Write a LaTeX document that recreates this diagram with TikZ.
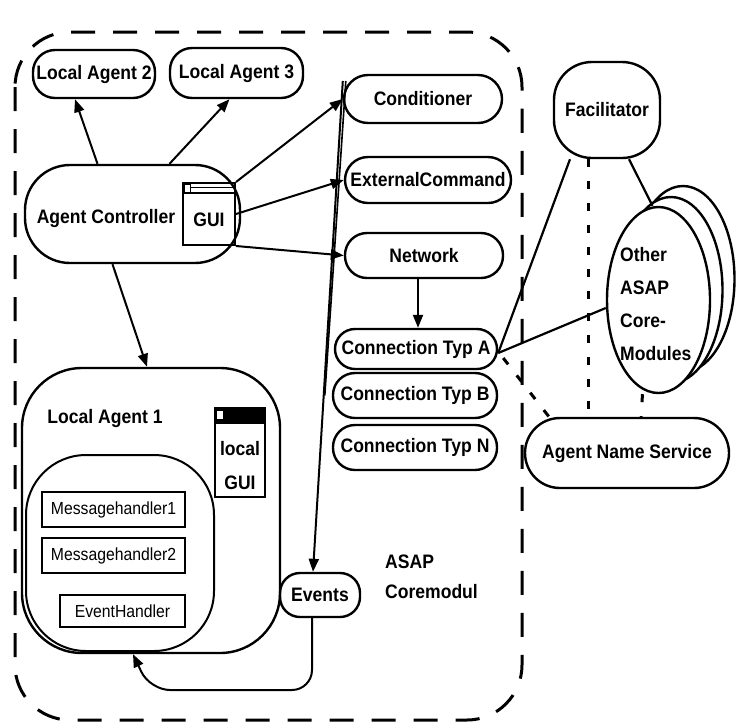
\documentclass[tikz,border=0pt]{standalone}
\usepackage{fontspec}
\setmainfont{Liberation Sans}[FakeStretch=0.9]
\usetikzlibrary{arrows.meta,calc,shapes.geometric}
\begin{document}
\begin{tikzpicture}[x=1pt,y=-1pt,
  every node/.style={inner sep=0pt},
  lbl/.style={font=\bfseries\fontsize{19.5}{21}\selectfont},
  box/.style={draw, line width=2.4pt, rounded corners=#1, font=\bfseries\fontsize{19.5}{21}\selectfont},
  box/.default=20pt,
  hbox/.style={draw, line width=2pt, font=\fontsize{17.5}{19}\selectfont},
  win/.style={draw, line width=2pt},
  arr/.style={line width=2pt, -{Triangle[length=13pt,width=10pt]}},
  ln/.style={line width=2.2pt},
  dot/.style={line width=3pt, dash pattern=on 8pt off 14pt},
  oval/.style={draw, ellipse, line width=2.4pt, fill=white, minimum width=103pt, minimum height=186pt}
]
\useasboundingbox (0,0) rectangle (741,724);
\fill[white] (0,0) rectangle (741,724);

% boundary of the core module
\draw[line width=3pt, dash pattern=on 24pt off 18pt, rounded corners=55pt] (15,32) rectangle (522,720);

% local agents and controller
\node[box=22pt, minimum width=122pt, minimum height=48pt] (la2) at (94,74) {Local Agent 2};
\node[box=22pt, minimum width=133pt, minimum height=50pt] (la3) at (236.5,73) {Local Agent 3};
\node[box=45pt, minimum width=215pt, minimum height=98pt] (ctrl) at (132.5,214) {};
\node[lbl] (ctrltxt) at (106,218) {Agent Controller};

% GUI window of the controller
\node[win, minimum width=52pt, minimum height=62pt] (gui) at (209,214) {};
\draw[line width=1.6pt] ([yshift=-11pt]gui.north west) -- ([yshift=-11pt]gui.north east);
\draw[line width=1pt] ([shift={(9pt,-5pt)}]gui.north west) -- ([shift={(-2pt,-5pt)}]gui.north east);
\draw[line width=1pt] ([shift={(2pt,-2pt)}]gui.north west) rectangle ([shift={(8pt,-10pt)}]gui.north west);
\node[lbl] (guitxt) at ([yshift=-6pt]gui.center) {GUI};

% core services
\node[box=24pt, minimum width=158pt, minimum height=48pt] (cond) at (423,99) {Conditioner};
\node[box=23pt, minimum width=166pt, minimum height=46pt] (ext) at (428,180) {ExternalCommand};
\node[box=22pt, minimum width=158pt, minimum height=45pt] (net) at (424,255.5) {Network};
\node[box=20pt, minimum width=162pt, minimum height=40pt] (ca) at (416,349) {Connection Typ A};
\node[box=22pt, minimum width=164pt, minimum height=45pt] (cb) at (415,395.5) {Connection Typ B};
\node[box=22pt, minimum width=164pt, minimum height=45pt] (cn) at (415,447.5) {Connection Typ N};
\node[box=20pt, minimum width=80pt, minimum height=44pt] (events) at (320,595) {Events};
\node[anchor=west, align=left, font=\bfseries\fontsize{19.5}{30}\selectfont] (asap) at (385,577) {ASAP\\Coremodul};

% external services
\node[box=38pt, minimum width=106pt, minimum height=96pt] (fac) at (607,110) {Facilitator};
\node[box=35pt, minimum width=204pt, minimum height=70pt] (ans) at (627,453) {Agent Name Service};
\node[oval] (mod3) at (683,279) {};
\node[oval] (mod2) at (671,290) {};
\node[oval] (mod1) at (658.5,300) {};
\node[anchor=west, align=left, font=\bfseries\fontsize{19.5}{33}\selectfont] (modtxt) at (620,304) {Other\\ASAP\\Core-\\Modules};

% local agent 1
\node[box=60pt, minimum width=258pt, minimum height=285pt] (la1) at (151,510.5) {};
\node[lbl] (la1txt) at (105,418) {Local Agent 1};
\node[draw, line width=2pt, rounded corners=60pt, minimum width=188pt, minimum height=196pt] (core) at (120,553) {};
\node[hbox, minimum width=143pt, minimum height=35pt] (mh1) at (113.5,509.5) {Messagehandler1};
\node[hbox, minimum width=143pt, minimum height=35pt] (mh2) at (113.5,555.5) {Messagehandler2};
\node[hbox, minimum width=125pt, minimum height=32pt] (eh) at (122.5,611) {EventHandler};
\node[win, minimum width=50pt, minimum height=89pt] (lgui) at (240,452.5) {};
\fill (lgui.north west) rectangle ([yshift=-17pt]lgui.north east);
\fill[white] ([shift={(3pt,-4pt)}]lgui.north west) rectangle ([shift={(9pt,-12pt)}]lgui.north west);
\node[align=center, font=\bfseries\fontsize{19.5}{34}\selectfont] (lguitxt) at (240,466) {local\\GUI};

% arrows from the controller
\draw[arr] ([xshift=-35pt]ctrl.north) -- ([xshift=-19pt]la2.south);
\draw[arr] ([xshift=37pt]ctrl.north) -- ([xshift=-7pt]la3.south);
\draw[arr] (gui.north east) -- (cond.west);
\draw[arr] (gui.east) -- (ext.west);
\draw[arr] (gui.south east) -- (net.west);
\draw[arr] ([xshift=-20pt]ctrl.south) -- ([xshift=-4pt]la1.north);
\draw[arr] ([xshift=-6pt]net.south) -- ([xshift=2pt]ca.north);

% event flow
\draw[arr] ([yshift=18pt]cond.west) -- ([xshift=-7pt]events.north);
\draw[line width=1.6pt] ([shift={(3pt,18pt)}]cond.west) -- ([xshift=-7pt]cb.west);
\coordinate (evturn) at (150,690);
\draw[arr, rounded corners=20pt] ([xshift=-8pt]events.south) |- (evturn) -- ([xshift=-18pt]la1.south);

% links to the outside
\draw[ln] ([xshift=-37pt]fac.south) -- ([yshift=-4pt]ca.east);
\draw[ln] ([xshift=22pt]fac.south) -- ([xshift=-6pt]mod1.north);
\draw[ln] ([yshift=-8pt]mod1.west) -- ([yshift=-4pt]ca.east);
\draw[dot] ([xshift=-19pt]fac.south) -- ([xshift=-39pt]ans.north);
\draw[dot] ([shift={(5pt,-9pt)}]ca.east) -- ([xshift=-78pt]ans.north);
\draw[dot] ([xshift=-16pt]mod1.south) -- ([xshift=14pt]ans.north);
\end{tikzpicture}
\end{document}
